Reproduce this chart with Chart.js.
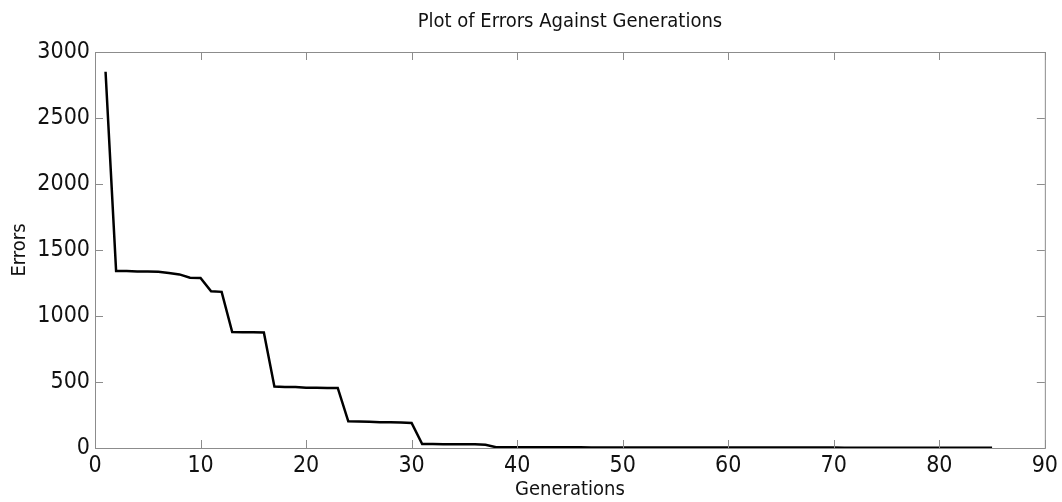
<!DOCTYPE html>
<html>
<head>
<meta charset="utf-8">
<script src="https://cdn.jsdelivr.net/npm/chart.js@4.4.1/dist/chart.umd.min.js"></script>
<style>
  html, body { margin: 0; padding: 0; background: #fff; }
  #wrap { width: 1062px; height: 502px; }
</style>
</head>
<body>
<div id="wrap"><canvas id="errChart" width="1062" height="502"></canvas></div>
<script>
// generations and error values
const generations = [];
for (let g = 1; g <= 85; g++) generations.push(g);
const errors = [
  2850, 1340, 1340, 1338, 1337, 1335, 1325, 1315, 1290, 1288,
  1187, 1183, 878, 877, 876, 875, 465, 463, 462, 457,
  456, 455, 455, 202, 200, 198, 196, 195, 194, 190,
  30, 30, 29, 29, 28, 28, 25, 6, 5, 5,
  5, 5, 5, 5, 5, 5, 4, 4, 4, 4,
  4, 4, 4, 4, 4, 4, 4, 3, 3, 3,
  3, 3, 3, 3, 3, 3, 3, 3, 3, 3,
  2, 2, 2, 2, 2, 2, 2, 2, 2, 2,
  2, 2, 2, 2, 2
];
const xTicks = [0, 10, 20, 30, 40, 50, 60, 70, 80, 90];
const yTicks = [0, 500, 1000, 1500, 2000, 2500, 3000];
const chartTitle = 'Plot of Errors Against Generations';

const FONT = "'DejaVu Sans Condensed', 'Liberation Sans Narrow', sans-serif";

// box round the plot with inward ticks on all four sides, title centred over the plot
const frame = {
  id: 'frame',
  afterDraw(chart) {
    const { ctx, chartArea: a, scales } = chart;
    ctx.save();
    ctx.strokeStyle = '#8c8c8c';
    ctx.lineWidth = 1;
    ctx.strokeRect(a.left + 0.5, a.top + 0.5, a.right - a.left, a.bottom - a.top);
    ctx.beginPath();
    xTicks.forEach(v => {
      const px = Math.round(scales.x.getPixelForValue(v)) + 0.5;
      ctx.moveTo(px, a.bottom); ctx.lineTo(px, a.bottom - 8);
      ctx.moveTo(px, a.top); ctx.lineTo(px, a.top + 8);
    });
    yTicks.forEach(v => {
      const py = Math.round(scales.y.getPixelForValue(v)) + 0.5;
      ctx.moveTo(a.left, py); ctx.lineTo(a.left + 8, py);
      ctx.moveTo(a.right, py); ctx.lineTo(a.right - 8, py);
    });
    ctx.stroke();

    ctx.fillStyle = '#111';
    ctx.font = '20px ' + FONT;
    ctx.textAlign = 'center';
    ctx.textBaseline = 'middle';
    ctx.fillText(chartTitle, (a.left + a.right) / 2, 22);
    ctx.restore();
  }
};

new Chart(document.getElementById('errChart').getContext('2d'), {
  type: 'scatter',
  data: {
    datasets: [{
      data: generations.map((g, i) => ({ x: g, y: errors[i] })),
      showLine: true,
      borderColor: '#000',
      borderWidth: 2.5,
      pointRadius: 0,
      tension: 0
    }]
  },
  options: {
    responsive: false,
    animation: false,
    layout: { padding: { right: 17, left: 8, top: 52, bottom: 0 } },
    plugins: {
      legend: { display: false },
      tooltip: { enabled: false }
    },
    scales: {
      x: {
        type: 'linear',
        min: 0, max: 90,
        afterBuildTicks: s => { s.ticks = xTicks.map(v => ({ value: v })); },
        afterFit: s => { s.height = 54; },
        grid: { display: false, drawTicks: false },
        border: { display: false },
        ticks: { color: '#111', font: { family: FONT, size: 23 }, padding: 4, maxRotation: 0, callback: v => String(v) },
        title: { display: true, text: 'Generations', color: '#111', font: { family: FONT, size: 20 }, padding: 0 }
      },
      y: {
        min: 0, max: 3000,
        afterBuildTicks: s => { s.ticks = yTicks.map(v => ({ value: v })); },
        afterFit: s => { s.width = 87; },
        grid: { display: false, drawTicks: false },
        border: { display: false },
        ticks: { color: '#111', font: { family: FONT, size: 23 }, padding: 5, callback: v => String(v) },
        title: { display: true, text: 'Errors', color: '#111', font: { family: FONT, size: 20 }, padding: 0 }
      }
    }
  },
  plugins: [frame]
});
</script>
</body>
</html>
